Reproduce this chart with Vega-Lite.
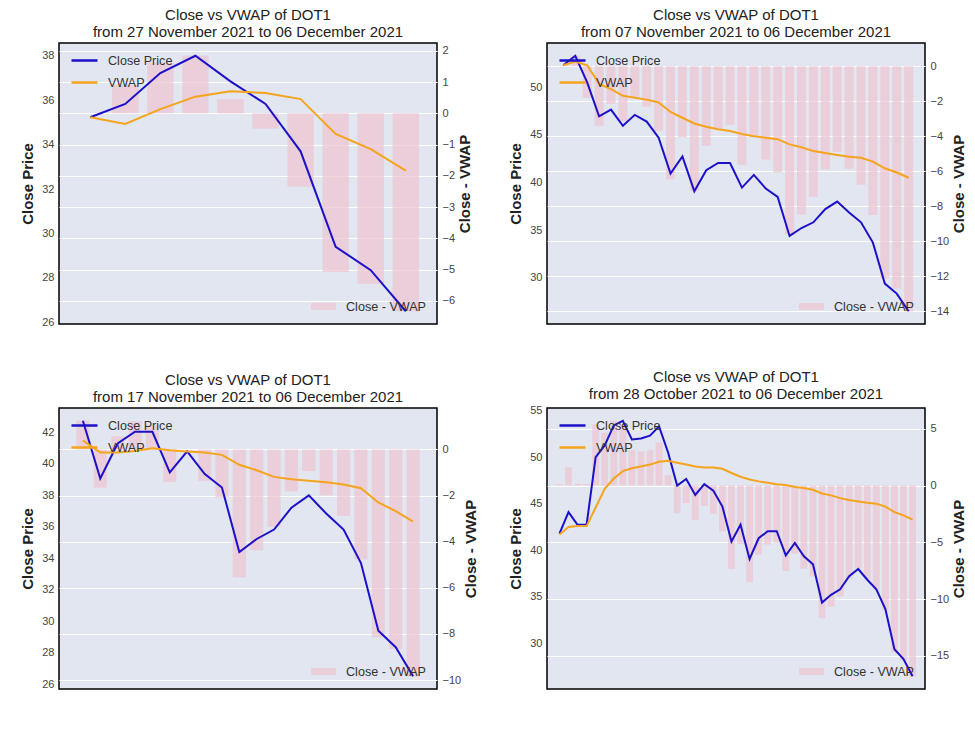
{
  "$schema": "https://vega.github.io/schema/vega-lite/v6.json",
  "background": "white",
  "padding": {"left": 20, "top": 7, "right": 5, "bottom": 5},
  "datasets": {
    "p1": [
      {"date": "2021-11-27", "close": 35.23, "vwap": 35.23, "diff": 0.0},
      {"date": "2021-11-28", "close": 35.83, "vwap": 34.93, "diff": 0.9},
      {"date": "2021-11-29", "close": 37.22, "vwap": 35.6, "diff": 1.62},
      {"date": "2021-11-30", "close": 38.0, "vwap": 36.16, "diff": 1.84},
      {"date": "2021-12-01", "close": 36.85, "vwap": 36.4, "diff": 0.45},
      {"date": "2021-12-02", "close": 35.83, "vwap": 36.32, "diff": -0.49},
      {"date": "2021-12-03", "close": 33.7, "vwap": 36.05, "diff": -2.35},
      {"date": "2021-12-04", "close": 29.4, "vwap": 34.48, "diff": -5.08},
      {"date": "2021-12-05", "close": 28.35, "vwap": 33.8, "diff": -5.45},
      {"date": "2021-12-06", "close": 26.5, "vwap": 32.83, "diff": -6.33}
    ],
    "p2": [
      {"date": "2021-11-07", "close": 52.3, "vwap": 52.3, "diff": 0.0},
      {"date": "2021-11-08", "close": 53.3, "vwap": 52.7, "diff": 0.6},
      {"date": "2021-11-09", "close": 50.5, "vwap": 52.3, "diff": -1.8},
      {"date": "2021-11-10", "close": 46.95, "vwap": 50.35, "diff": -3.4},
      {"date": "2021-11-11", "close": 47.65, "vwap": 49.8, "diff": -2.15},
      {"date": "2021-11-12", "close": 45.95, "vwap": 49.1, "diff": -3.15},
      {"date": "2021-11-13", "close": 47.1, "vwap": 48.9, "diff": -1.8},
      {"date": "2021-11-14", "close": 46.4, "vwap": 48.7, "diff": -2.3},
      {"date": "2021-11-15", "close": 44.7, "vwap": 48.4, "diff": -3.7},
      {"date": "2021-11-16", "close": 40.95, "vwap": 47.4, "diff": -6.45},
      {"date": "2021-11-17", "close": 42.75, "vwap": 46.8, "diff": -4.05},
      {"date": "2021-11-18", "close": 39.08, "vwap": 46.2, "diff": -7.12},
      {"date": "2021-11-19", "close": 41.3, "vwap": 45.85, "diff": -4.55},
      {"date": "2021-11-20", "close": 42.05, "vwap": 45.6, "diff": -3.55},
      {"date": "2021-11-21", "close": 42.05, "vwap": 45.4, "diff": -3.35},
      {"date": "2021-11-22", "close": 39.47, "vwap": 45.1, "diff": -5.63},
      {"date": "2021-11-23", "close": 40.8, "vwap": 44.85, "diff": -4.05},
      {"date": "2021-11-24", "close": 39.37, "vwap": 44.7, "diff": -5.33},
      {"date": "2021-11-25", "close": 38.5, "vwap": 44.55, "diff": -6.05},
      {"date": "2021-11-26", "close": 34.4, "vwap": 44.0, "diff": -9.6},
      {"date": "2021-11-27", "close": 35.23, "vwap": 43.7, "diff": -8.47},
      {"date": "2021-11-28", "close": 35.83, "vwap": 43.3, "diff": -7.47},
      {"date": "2021-11-29", "close": 37.22, "vwap": 43.1, "diff": -5.88},
      {"date": "2021-11-30", "close": 38.0, "vwap": 42.9, "diff": -4.9},
      {"date": "2021-12-01", "close": 36.85, "vwap": 42.7, "diff": -5.85},
      {"date": "2021-12-02", "close": 35.83, "vwap": 42.6, "diff": -6.77},
      {"date": "2021-12-03", "close": 33.7, "vwap": 42.2, "diff": -8.5},
      {"date": "2021-12-04", "close": 29.4, "vwap": 41.5, "diff": -12.1},
      {"date": "2021-12-05", "close": 28.35, "vwap": 41.05, "diff": -12.7},
      {"date": "2021-12-06", "close": 26.5, "vwap": 40.5, "diff": -14.0}
    ],
    "p3": [
      {"date": "2021-11-17", "close": 42.75, "vwap": 41.5, "diff": 1.25},
      {"date": "2021-11-18", "close": 39.08, "vwap": 40.73, "diff": -1.65},
      {"date": "2021-11-19", "close": 41.3, "vwap": 40.73, "diff": 0.57},
      {"date": "2021-11-20", "close": 42.05, "vwap": 40.83, "diff": 1.22},
      {"date": "2021-11-21", "close": 42.05, "vwap": 41.0, "diff": 1.05},
      {"date": "2021-11-22", "close": 39.47, "vwap": 40.88, "diff": -1.41},
      {"date": "2021-11-23", "close": 40.8, "vwap": 40.8, "diff": 0.0},
      {"date": "2021-11-24", "close": 39.37, "vwap": 40.73, "diff": -1.36},
      {"date": "2021-11-25", "close": 38.5, "vwap": 40.58, "diff": -2.08},
      {"date": "2021-11-26", "close": 34.4, "vwap": 39.95, "diff": -5.55},
      {"date": "2021-11-27", "close": 35.23, "vwap": 39.6, "diff": -4.37},
      {"date": "2021-11-28", "close": 35.83, "vwap": 39.18, "diff": -3.35},
      {"date": "2021-11-29", "close": 37.22, "vwap": 39.03, "diff": -1.81},
      {"date": "2021-11-30", "close": 38.0, "vwap": 38.93, "diff": -0.93},
      {"date": "2021-12-01", "close": 36.85, "vwap": 38.84, "diff": -1.99},
      {"date": "2021-12-02", "close": 35.83, "vwap": 38.7, "diff": -2.87},
      {"date": "2021-12-03", "close": 33.7, "vwap": 38.46, "diff": -4.76},
      {"date": "2021-12-04", "close": 29.4, "vwap": 37.55, "diff": -8.15},
      {"date": "2021-12-05", "close": 28.35, "vwap": 37.0, "diff": -8.65},
      {"date": "2021-12-06", "close": 26.5, "vwap": 36.34, "diff": -9.84}
    ],
    "p4": [
      {"date": "2021-10-28", "close": 41.8, "vwap": 41.7, "diff": 0.1},
      {"date": "2021-10-29", "close": 44.1, "vwap": 42.5, "diff": 1.6},
      {"date": "2021-10-30", "close": 42.75, "vwap": 42.6, "diff": 0.15},
      {"date": "2021-10-31", "close": 42.75, "vwap": 42.6, "diff": 0.15},
      {"date": "2021-11-01", "close": 50.0, "vwap": 44.6, "diff": 5.4},
      {"date": "2021-11-02", "close": 51.25, "vwap": 46.6, "diff": 4.65},
      {"date": "2021-11-03", "close": 53.4, "vwap": 47.7, "diff": 5.7},
      {"date": "2021-11-04", "close": 53.9, "vwap": 48.5, "diff": 5.4},
      {"date": "2021-11-05", "close": 51.9, "vwap": 48.8, "diff": 3.1},
      {"date": "2021-11-06", "close": 52.0, "vwap": 49.0, "diff": 3.0},
      {"date": "2021-11-07", "close": 52.3, "vwap": 49.2, "diff": 3.1},
      {"date": "2021-11-08", "close": 53.3, "vwap": 49.5, "diff": 3.8},
      {"date": "2021-11-09", "close": 50.5, "vwap": 49.6, "diff": 0.9},
      {"date": "2021-11-10", "close": 46.95, "vwap": 49.4, "diff": -2.45},
      {"date": "2021-11-11", "close": 47.65, "vwap": 49.2, "diff": -1.55},
      {"date": "2021-11-12", "close": 45.95, "vwap": 49.0, "diff": -3.05},
      {"date": "2021-11-13", "close": 47.1, "vwap": 48.9, "diff": -1.8},
      {"date": "2021-11-14", "close": 46.4, "vwap": 48.9, "diff": -2.5},
      {"date": "2021-11-15", "close": 44.7, "vwap": 48.75, "diff": -4.05},
      {"date": "2021-11-16", "close": 40.95, "vwap": 48.3, "diff": -7.35},
      {"date": "2021-11-17", "close": 42.75, "vwap": 47.9, "diff": -5.15},
      {"date": "2021-11-18", "close": 39.08, "vwap": 47.6, "diff": -8.52},
      {"date": "2021-11-19", "close": 41.3, "vwap": 47.4, "diff": -6.1},
      {"date": "2021-11-20", "close": 42.05, "vwap": 47.25, "diff": -5.2},
      {"date": "2021-11-21", "close": 42.05, "vwap": 47.1, "diff": -5.05},
      {"date": "2021-11-22", "close": 39.47, "vwap": 47.0, "diff": -7.53},
      {"date": "2021-11-23", "close": 40.8, "vwap": 46.8, "diff": -6.0},
      {"date": "2021-11-24", "close": 39.37, "vwap": 46.7, "diff": -7.33},
      {"date": "2021-11-25", "close": 38.5, "vwap": 46.5, "diff": -8.0},
      {"date": "2021-11-26", "close": 34.4, "vwap": 46.1, "diff": -11.7},
      {"date": "2021-11-27", "close": 35.23, "vwap": 45.9, "diff": -10.67},
      {"date": "2021-11-28", "close": 35.83, "vwap": 45.6, "diff": -9.77},
      {"date": "2021-11-29", "close": 37.22, "vwap": 45.4, "diff": -8.18},
      {"date": "2021-11-30", "close": 38.0, "vwap": 45.25, "diff": -7.25},
      {"date": "2021-12-01", "close": 36.85, "vwap": 45.1, "diff": -8.25},
      {"date": "2021-12-02", "close": 35.83, "vwap": 45.0, "diff": -9.17},
      {"date": "2021-12-03", "close": 33.7, "vwap": 44.7, "diff": -11.0},
      {"date": "2021-12-04", "close": 29.4, "vwap": 44.1, "diff": -14.7},
      {"date": "2021-12-05", "close": 28.35, "vwap": 43.75, "diff": -15.4},
      {"date": "2021-12-06", "close": 26.5, "vwap": 43.3, "diff": -16.8}
    ]
  },
  "columns": 2,
  "bounds": "flush",
  "spacing": {"row": 84, "column": 110},
  "concat": [
    {
      "width": 378, "height": 281,
      "title": {"text": ["Close vs VWAP of DOT1", "from 27 November 2021 to 06 December 2021"]},
      "data": {"name": "p1"},
      "encoding": {"x": {"field": "date", "type": "ordinal", "axis": null, "scale": {"paddingInner": 0.25, "paddingOuter": 0.515}}},
      "layer": [
        {
          "mark": {"type": "bar", "opacity": 0.7},
          "encoding": {
            "y": {"field": "diff", "type": "quantitative", "scale": {"domain": [-6.74, 2.25], "nice": false, "zero": false},
                  "axis": {"orient": "right", "title": "Close - VWAP", "titleAngle": 270, "titleBaseline": "top", "titlePadding": 3, "values": [-6, -5, -4, -3, -2, -1, 0, 1, 2]}},
            "fill": {"datum": "Close - VWAP", "scale": {"range": ["#eec3d0"]},
                     "legend": {"orient": "bottom-right", "title": null, "symbolType": "M-1,-0.28L1,-0.28L1,0.28L-1,0.28Z", "symbolSize": 625, "symbolOpacity": 0.7, "symbolStrokeWidth": 0, "offset": 10}}
          }
        },
        {
          "transform": [{"fold": ["close", "vwap"], "as": ["key", "value"]}],
          "mark": {"type": "line", "strokeWidth": 2},
          "encoding": {
            "y": {"field": "value", "type": "quantitative", "scale": {"domain": [25.925, 38.575], "nice": false, "zero": false},
                  "axis": {"orient": "left", "title": "Close Price", "values": [26, 28, 30, 32, 34, 36, 38]}},
            "stroke": {"field": "key", "type": "nominal", "scale": {"domain": ["close", "vwap"], "range": ["#1c10c8", "#f5a41c"]},
                       "legend": {"orient": "top-left", "title": null, "labelExpr": "datum.label == 'close' ? 'Close Price' : 'VWAP'", "symbolType": "stroke", "symbolSize": 676, "symbolStrokeWidth": 2.5, "offset": 3, "symbolOffset": 8, "labelOffset": 9, "rowPadding": -8}}
          }
        }
      ],
      "resolve": {"scale": {"y": "independent"}}
    },
    {
      "width": 378, "height": 281,
      "title": {"text": ["Close vs VWAP of DOT1", "from 07 November 2021 to 06 December 2021"]},
      "data": {"name": "p2"},
      "encoding": {"x": {"field": "date", "type": "ordinal", "axis": null, "scale": {"paddingInner": 0.25, "paddingOuter": 1.515}}},
      "layer": [
        {
          "mark": {"type": "bar", "opacity": 0.7},
          "encoding": {
            "y": {"field": "diff", "type": "quantitative", "scale": {"domain": [-14.73, 1.33], "nice": false, "zero": false},
                  "axis": {"orient": "right", "title": "Close - VWAP", "titleAngle": 270, "titleBaseline": "top", "titlePadding": 3, "values": [-14, -12, -10, -8, -6, -4, -2, 0]}},
            "fill": {"datum": "Close - VWAP", "scale": {"range": ["#eec3d0"]},
                     "legend": {"orient": "bottom-right", "title": null, "symbolType": "M-1,-0.28L1,-0.28L1,0.28L-1,0.28Z", "symbolSize": 625, "symbolOpacity": 0.7, "symbolStrokeWidth": 0, "offset": 10}}
          }
        },
        {
          "transform": [{"fold": ["close", "vwap"], "as": ["key", "value"]}],
          "mark": {"type": "line", "strokeWidth": 2},
          "encoding": {
            "y": {"field": "value", "type": "quantitative", "scale": {"domain": [25.16, 54.64], "nice": false, "zero": false},
                  "axis": {"orient": "left", "title": "Close Price", "values": [30, 35, 40, 45, 50]}},
            "stroke": {"field": "key", "type": "nominal", "scale": {"domain": ["close", "vwap"], "range": ["#1c10c8", "#f5a41c"]},
                       "legend": {"orient": "top-left", "title": null, "labelExpr": "datum.label == 'close' ? 'Close Price' : 'VWAP'", "symbolType": "stroke", "symbolSize": 676, "symbolStrokeWidth": 2.5, "offset": 3, "symbolOffset": 8, "labelOffset": 9, "rowPadding": -8}}
          }
        }
      ],
      "resolve": {"scale": {"y": "independent"}}
    },
    {
      "width": 378, "height": 281,
      "title": {"text": ["Close vs VWAP of DOT1", "from 17 November 2021 to 06 December 2021"]},
      "data": {"name": "p3"},
      "encoding": {"x": {"field": "date", "type": "ordinal", "axis": null, "scale": {"paddingInner": 0.25, "paddingOuter": 1.015}}},
      "layer": [
        {
          "mark": {"type": "bar", "opacity": 0.7},
          "encoding": {
            "y": {"field": "diff", "type": "quantitative", "scale": {"domain": [-10.39, 1.8], "nice": false, "zero": false},
                  "axis": {"orient": "right", "title": "Close - VWAP", "titleAngle": 270, "titleBaseline": "top", "titlePadding": 3, "values": [-10, -8, -6, -4, -2, 0]}},
            "fill": {"datum": "Close - VWAP", "scale": {"range": ["#eec3d0"]},
                     "legend": {"orient": "bottom-right", "title": null, "symbolType": "M-1,-0.28L1,-0.28L1,0.28L-1,0.28Z", "symbolSize": 625, "symbolOpacity": 0.7, "symbolStrokeWidth": 0, "offset": 10}}
          }
        },
        {
          "transform": [{"fold": ["close", "vwap"], "as": ["key", "value"]}],
          "mark": {"type": "line", "strokeWidth": 2},
          "encoding": {
            "y": {"field": "value", "type": "quantitative", "scale": {"domain": [25.69, 43.56], "nice": false, "zero": false},
                  "axis": {"orient": "left", "title": "Close Price", "values": [26, 28, 30, 32, 34, 36, 38, 40, 42]}},
            "stroke": {"field": "key", "type": "nominal", "scale": {"domain": ["close", "vwap"], "range": ["#1c10c8", "#f5a41c"]},
                       "legend": {"orient": "top-left", "title": null, "labelExpr": "datum.label == 'close' ? 'Close Price' : 'VWAP'", "symbolType": "stroke", "symbolSize": 676, "symbolStrokeWidth": 2.5, "offset": 3, "symbolOffset": 8, "labelOffset": 9, "rowPadding": -8}}
          }
        }
      ],
      "resolve": {"scale": {"y": "independent"}}
    },
    {
      "width": 378, "height": 281,
      "title": {"text": ["Close vs VWAP of DOT1", "from 28 October 2021 to 06 December 2021"]},
      "data": {"name": "p4"},
      "encoding": {"x": {"field": "date", "type": "ordinal", "axis": null, "scale": {"paddingInner": 0.25, "paddingOuter": 2.015}}},
      "layer": [
        {
          "mark": {"type": "bar", "opacity": 0.7},
          "encoding": {
            "y": {"field": "diff", "type": "quantitative", "scale": {"domain": [-17.93, 6.83], "nice": false, "zero": false},
                  "axis": {"orient": "right", "title": "Close - VWAP", "titleAngle": 270, "titleBaseline": "top", "titlePadding": 3, "values": [-15, -10, -5, 0, 5]}},
            "fill": {"datum": "Close - VWAP", "scale": {"range": ["#eec3d0"]},
                     "legend": {"orient": "bottom-right", "title": null, "symbolType": "M-1,-0.28L1,-0.28L1,0.28L-1,0.28Z", "symbolSize": 625, "symbolOpacity": 0.7, "symbolStrokeWidth": 0, "offset": 10}}
          }
        },
        {
          "transform": [{"fold": ["close", "vwap"], "as": ["key", "value"]}],
          "mark": {"type": "line", "strokeWidth": 2},
          "encoding": {
            "y": {"field": "value", "type": "quantitative", "scale": {"domain": [25.13, 55.27], "nice": false, "zero": false},
                  "axis": {"orient": "left", "title": "Close Price", "values": [30, 35, 40, 45, 50, 55]}},
            "stroke": {"field": "key", "type": "nominal", "scale": {"domain": ["close", "vwap"], "range": ["#1c10c8", "#f5a41c"]},
                       "legend": {"orient": "top-left", "title": null, "labelExpr": "datum.label == 'close' ? 'Close Price' : 'VWAP'", "symbolType": "stroke", "symbolSize": 676, "symbolStrokeWidth": 2.5, "offset": 3, "symbolOffset": 8, "labelOffset": 9, "rowPadding": -8}}
          }
        }
      ],
      "resolve": {"scale": {"y": "independent"}}
    }
  ],
  "resolve": {"scale": {"stroke": "independent", "fill": "independent"}, "legend": {"stroke": "independent", "fill": "independent"}},
  "config": {
    "font": "Liberation Sans",
    "view": {"fill": "#e1e6f0", "stroke": "#000000", "strokeWidth": 1.5},
    "axis": {"grid": true, "gridColor": "#ffffff", "gridWidth": 1, "gridOpacity": 1, "domain": false, "ticks": false,
             "labelFontSize": 11, "labelColor": "#444444", "labelPadding": 5, "titleFontSize": 15, "titleFontWeight": "bold", "titleColor": "#222222", "titlePadding": 6},
    "title": {"fontSize": 15, "fontWeight": "normal", "color": "#222222", "lineHeight": 17, "offset": 3, "frame": "group", "anchor": "middle"},
    "legend": {"labelFontSize": 12.6, "labelColor": "#333333", "labelOffset": 10, "padding": 0, "rowPadding": 4}
  }
}
